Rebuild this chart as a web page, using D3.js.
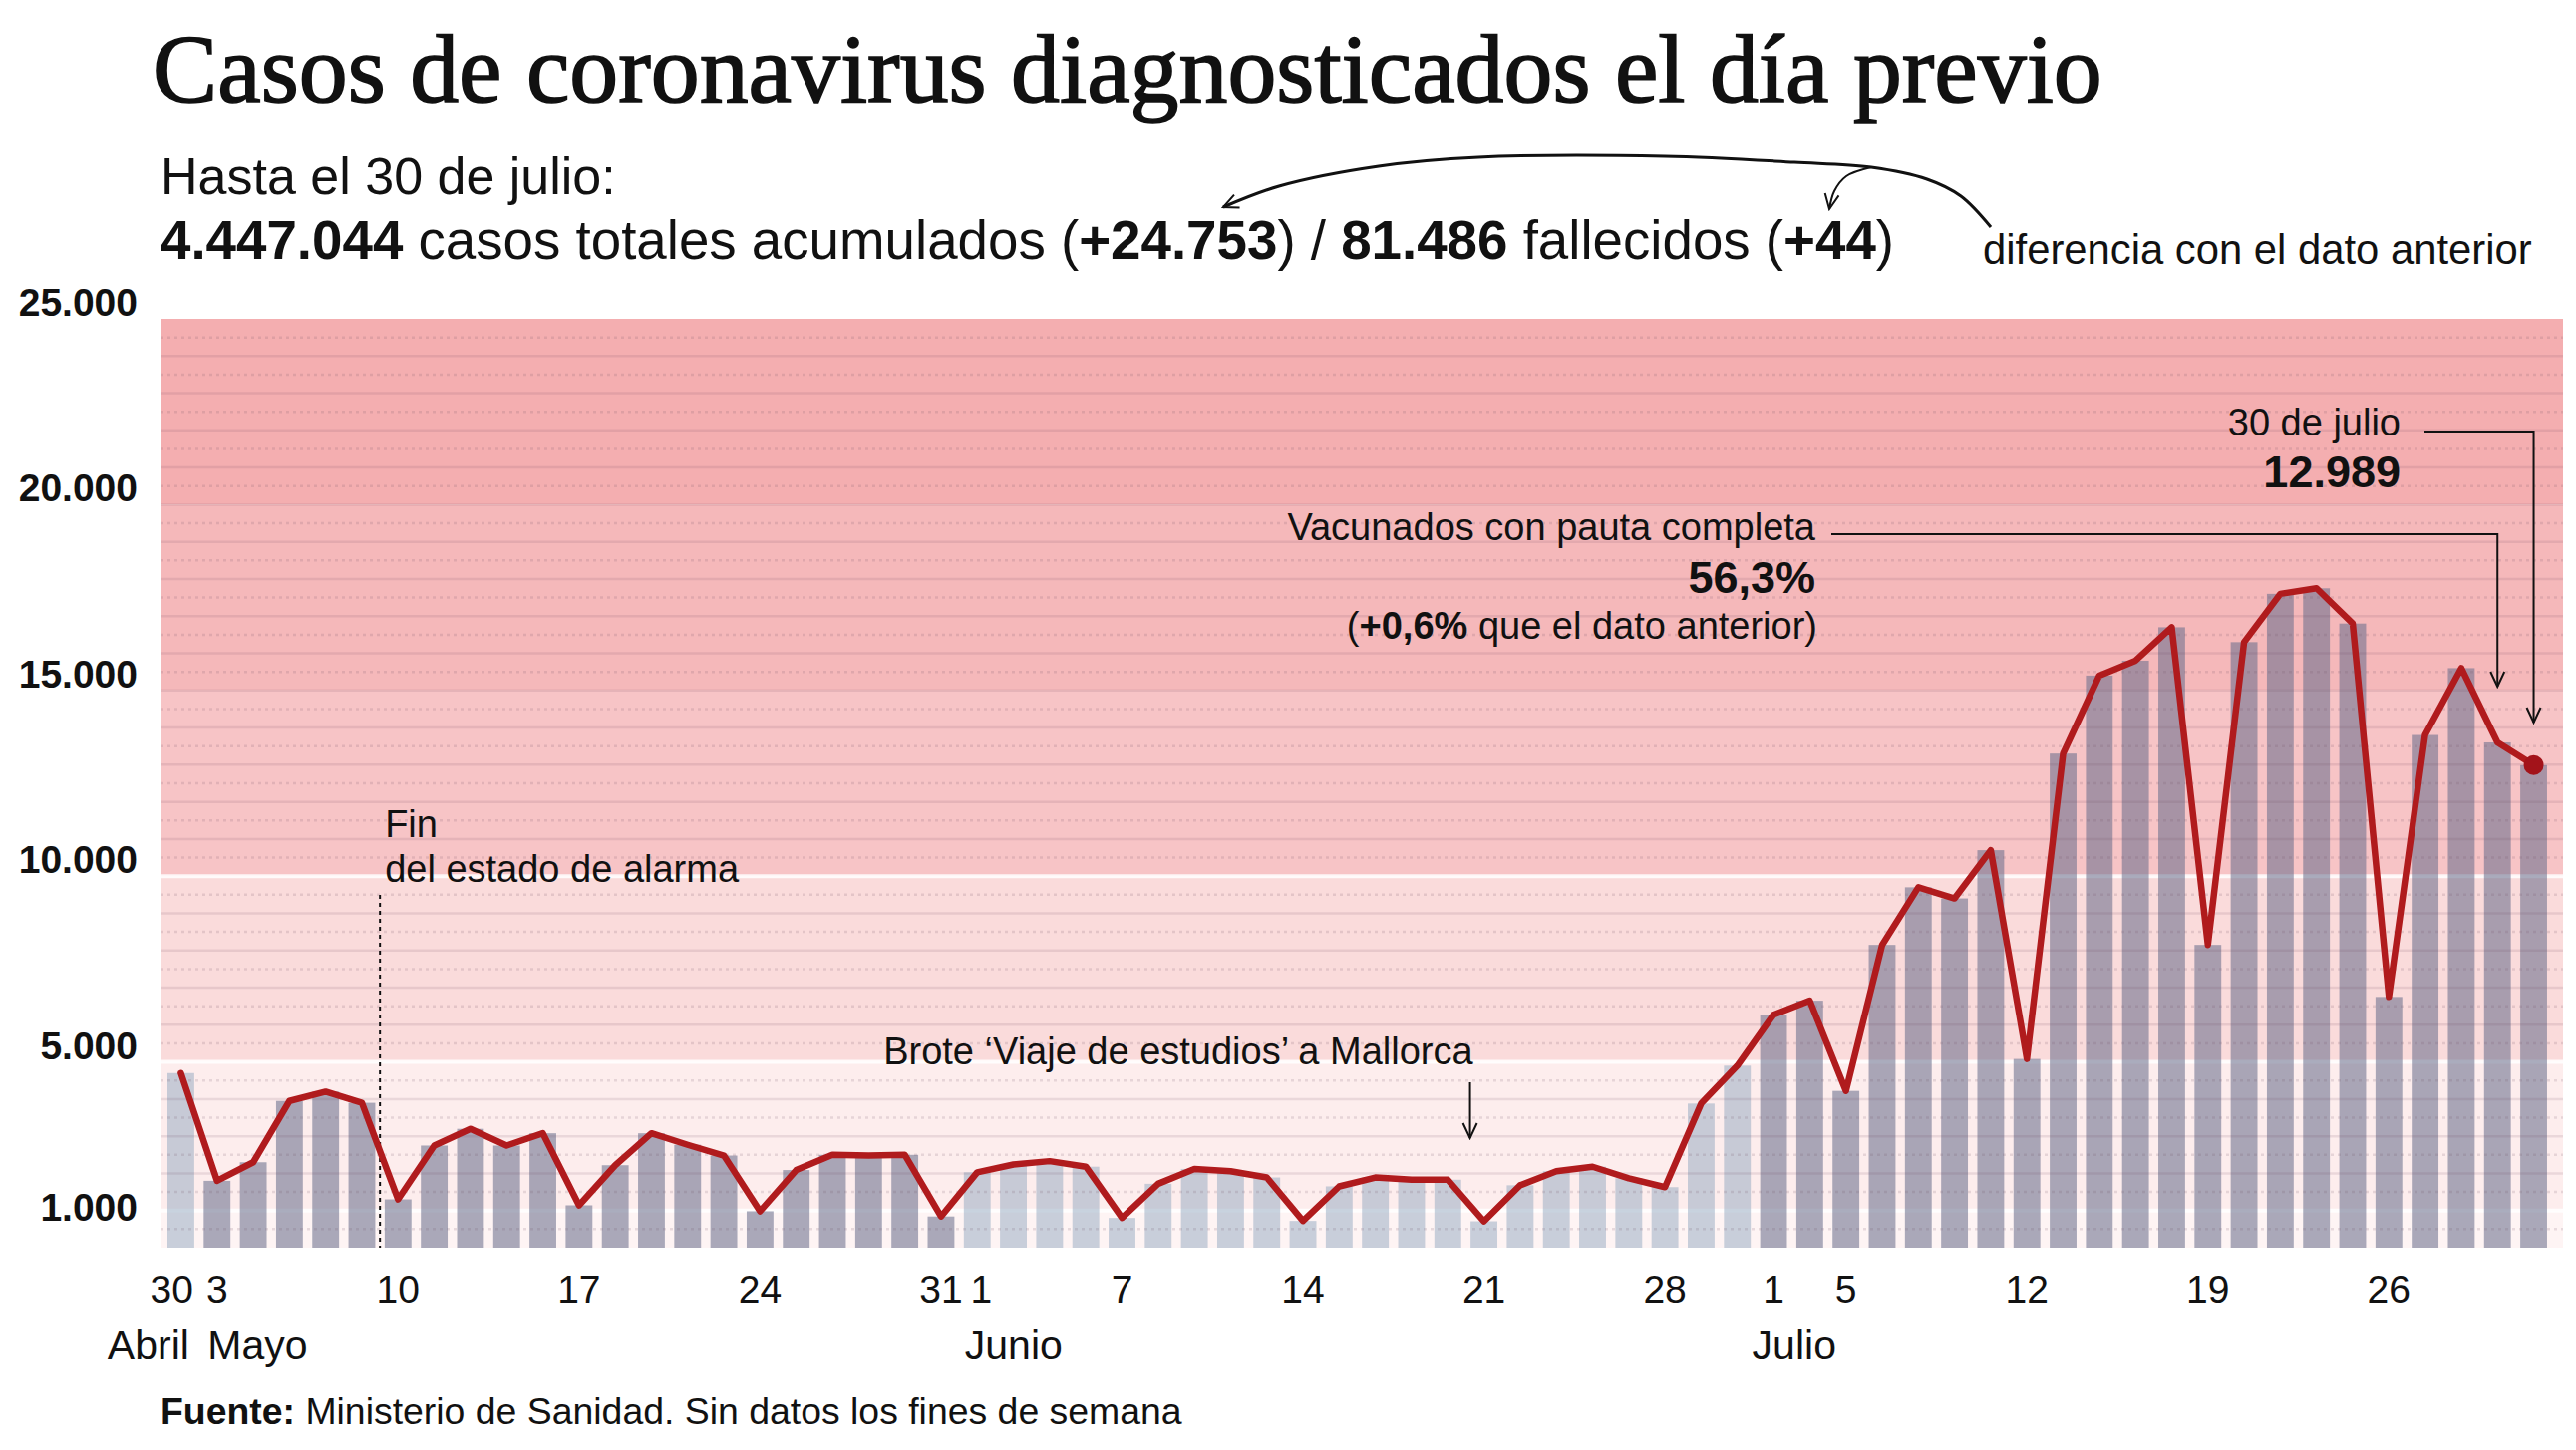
<!DOCTYPE html>
<html><head><meta charset="utf-8">
<script src="https://cdn.jsdelivr.net/npm/d3@7"></script>
<style>
body{margin:0;background:#fff}
svg{display:block}
text{font-family:"Liberation Sans",Arial,Helvetica,sans-serif;fill:#111}
</style>
</head><body>
<svg id="chart" width="2584" height="1455"></svg>
<script>
// ---------------- DATA ----------------
const fechas = [
 "2021-04-30",
 "2021-05-03","2021-05-04","2021-05-05","2021-05-06","2021-05-07",
 "2021-05-10","2021-05-11","2021-05-12","2021-05-13","2021-05-14",
 "2021-05-17","2021-05-18","2021-05-19","2021-05-20","2021-05-21",
 "2021-05-24","2021-05-25","2021-05-26","2021-05-27","2021-05-28",
 "2021-05-31","2021-06-01","2021-06-02","2021-06-03","2021-06-04",
 "2021-06-07","2021-06-08","2021-06-09","2021-06-10","2021-06-11",
 "2021-06-14","2021-06-15","2021-06-16","2021-06-17","2021-06-18",
 "2021-06-21","2021-06-22","2021-06-23","2021-06-24","2021-06-25",
 "2021-06-28","2021-06-29","2021-06-30","2021-07-01","2021-07-02",
 "2021-07-05","2021-07-06","2021-07-07","2021-07-08","2021-07-09",
 "2021-07-12","2021-07-13","2021-07-14","2021-07-15","2021-07-16",
 "2021-07-19","2021-07-20","2021-07-21","2021-07-22","2021-07-23",
 "2021-07-26","2021-07-27","2021-07-28","2021-07-29","2021-07-30"
];
const casos = [
 4700,
 1800,2300,3950,4200,3900,
 1300,2750,3200,2750,3080,
 1140,2220,3080,2770,2480,
 980,2090,2500,2480,2500,
 840,2030,2240,2330,2180,
 800,1720,2120,2060,1890,
 720,1650,1890,1830,1830,
 710,1680,2060,2180,1870,
 1630,3880,4900,6270,6650,
 4220,8150,9700,9400,10700,
 5080,13300,15400,15800,16700,
 8150,16300,17600,17750,16800,
 6750,13800,15600,13600,12989
];
const tickFechas = ["2021-04-30","2021-05-03","2021-05-10","2021-05-17","2021-05-24","2021-05-31","2021-06-01","2021-06-07","2021-06-14","2021-06-21","2021-06-28","2021-07-01","2021-07-05","2021-07-12","2021-07-19","2021-07-26"];
const tickEtiquetas = ["30","3","10","17","24","31","1","7","14","21","28","1","5","12","19","26"];
const mesFechas = ["2021-04-30","2021-05-03","2021-06-01","2021-07-01"];
const mesNombres = ["Abril","Mayo","Junio","Julio"];
const yTicks = [1000,5000,10000,15000,20000,25000];
const bandLimites = [0,1000,5000,10000,15000,20000,25000];
const bandColores = ["#fef4f4","#fdeded","#fadbdb","#f7c4c6","#f5b8ba","#f4aeb0"];
const separadores = [1000,5000,10000];

// ---------------- LAYOUT ----------------
const W = 2584, H = 1455;
const plotL = 161, plotR = 2571, plotT = 320, plotB = 1252;
const svg = d3.select("#chart");
svg.append("rect").attr("width",W).attr("height",H).attr("fill","#fff");

const es = d3.formatLocale({decimal:",",thousands:".",grouping:[3],currency:["","€"]});
const fmt = es.format(",d");

const x = d3.scaleBand().domain(fechas).range([163.3, 2559.7]).paddingInner(0.26).paddingOuter(0.13);
const y = d3.scaleLinear().domain([0,25000]).range([plotB, plotT]);
const cx = d => x(d) + x.bandwidth()/2;

// defs
const defs = svg.append("defs");
defs.append("marker").attr("id","flecha").attr("viewBox","0 0 20 20").attr("refX",18).attr("refY",10)
  .attr("markerWidth",20).attr("markerHeight",20).attr("markerUnits","userSpaceOnUse").attr("orient","auto")
  .append("path").attr("d","M3,3 L18,10 L3,17").attr("fill","none").attr("stroke","#111").attr("stroke-width",2);

// background bands
const g = svg.append("g");
g.selectAll("rect.band").data(bandColores).join("rect").attr("class","band")
  .attr("x",plotL).attr("width",plotR-plotL)
  .attr("y",(c,i)=>y(bandLimites[i+1])).attr("height",(c,i)=>y(bandLimites[i])-y(bandLimites[i+1]))
  .attr("fill",c=>c);
g.selectAll("line.sep").data(separadores).join("line").attr("class","sep")
  .attr("x1",plotL).attr("x2",plotR).attr("y1",d=>y(d)).attr("y2",d=>y(d))
  .attr("stroke","#fff").attr("stroke-width",4).attr("stroke-opacity",0.85);

// bars
const mesDe = d => +d.slice(5,7);
g.selectAll("rect.bar").data(fechas).join("rect").attr("class","bar")
  .attr("x",d=>x(d)).attr("width",x.bandwidth())
  .attr("y",(d,i)=>y(casos[i])).attr("height",(d,i)=>plotB - y(casos[i]))
  .attr("fill",d=> (mesDe(d)%2===1) ? "rgba(106,110,140,0.57)" : "rgba(146,168,192,0.5)");

// gridlines
const solidas = d3.range(1000,25000,1000).filter(v=>!separadores.includes(v));
const punteadas = d3.range(500,25000,1000);
g.selectAll("line.gs").data(solidas).join("line").attr("class","gs")
  .attr("x1",plotL).attr("x2",plotR).attr("y1",d=>y(d)).attr("y2",d=>y(d))
  .attr("stroke","rgba(110,70,90,0.13)").attr("stroke-width",2.5);
g.selectAll("line.gd").data(punteadas).join("line").attr("class","gd")
  .attr("x1",plotL).attr("x2",plotR).attr("y1",d=>y(d)).attr("y2",d=>y(d))
  .attr("stroke","rgba(110,80,100,0.16)").attr("stroke-width",2.5).attr("stroke-dasharray","3,4");

// Fin estado de alarma
const iMay10 = fechas.indexOf("2021-05-10");
const xFin = (cx(fechas[iMay10-1]) + cx(fechas[iMay10]))/2;
g.append("line").attr("x1",xFin).attr("x2",xFin).attr("y1",898).attr("y2",plotB)
  .attr("stroke","#111").attr("stroke-width",2).attr("stroke-dasharray","4,4");
g.append("text").attr("x",xFin+5).attr("y",840).attr("font-size",38).text("Fin");
g.append("text").attr("x",xFin+5).attr("y",885).attr("font-size",38).text("del estado de alarma");

// Brote
const xBrote = cx("2021-06-21") - 14;
g.append("text").attr("x",xBrote+3).attr("y",1068).attr("text-anchor","end").attr("font-size",38)
  .text("Brote \u2018Viaje de estudios\u2019 a Mallorca");
g.append("line").attr("x1",xBrote).attr("x2",xBrote).attr("y1",1086).attr("y2",1142)
  .attr("stroke","#111").attr("stroke-width",2).attr("marker-end","url(#flecha)");

// red line
const linea = d3.line().x(d=>cx(d)).y((d,i)=>y(casos[i]));
g.append("path").attr("d",linea(fechas)).attr("fill","none").attr("stroke","#b01b1d")
  .attr("stroke-width",6.5).attr("stroke-linejoin","round").attr("stroke-linecap","round");
const last = fechas.length-1;
g.append("circle").attr("cx",cx(fechas[last])).attr("cy",y(casos[last])).attr("r",10).attr("fill","#a3131a");

// y labels
svg.selectAll("text.yl").data(yTicks).join("text").attr("class","yl")
  .attr("x",138).attr("y",d=> d===1000 ? y(d)+10 : y(d)-3).attr("text-anchor","end").attr("font-size",39).attr("font-weight","bold")
  .text(d=>fmt(d));

// x labels
svg.selectAll("text.xl").data(tickFechas).join("text").attr("class","xl")
  .attr("x",(d,i)=> i===0 ? x(d)+x.bandwidth()-1 : (tickEtiquetas[i]==="1" && i===6 ? cx(d)+4 : cx(d)))
  .attr("y",1307).attr("text-anchor",(d,i)=> i===0 ? "end":"middle").attr("font-size",39)
  .text((d,i)=>tickEtiquetas[i]);
const mesDx = [-5, 4, 1, -8];
svg.selectAll("text.ml").data(mesFechas).join("text").attr("class","ml")
  .attr("x",(d,i)=> (i===0 ? x(d)+x.bandwidth() : x(d)) + mesDx[i])
  .attr("y",1364).attr("text-anchor",(d,i)=> i===0 ? "end":"start").attr("font-size",41)
  .text((d,i)=>mesNombres[i]);

// annotations right
const xJul29 = cx("2021-07-29"), xJul30 = cx(fechas[last]);
svg.append("text").attr("x",1821).attr("y",542).attr("text-anchor","end").attr("font-size",38).text("Vacunados con pauta completa");
svg.append("text").attr("x",1821).attr("y",595).attr("text-anchor","end").attr("font-size",45).attr("font-weight","bold").text("56,3%");
const t3 = svg.append("text").attr("x",1823).attr("y",641).attr("text-anchor","end").attr("font-size",38);
t3.append("tspan").text("(");
t3.append("tspan").attr("font-weight","bold").text("+0,6%");
t3.append("tspan").text(" que el dato anterior)");
svg.append("path").attr("d",`M1837,536 H${xJul29} V689`).attr("fill","none").attr("stroke","#111").attr("stroke-width",2).attr("marker-end","url(#flecha)");

svg.append("text").attr("x",2408).attr("y",437).attr("text-anchor","end").attr("font-size",38).text("30 de julio");
svg.append("text").attr("x",2408).attr("y",489).attr("text-anchor","end").attr("font-size",45).attr("font-weight","bold").text(fmt(casos[last]));
svg.append("path").attr("d",`M2432,433 H${xJul30} V725`).attr("fill","none").attr("stroke","#111").attr("stroke-width",2).attr("marker-end","url(#flecha)");

// title & header
const title = svg.append("text").attr("x",153).attr("y",102).attr("font-size",88)
  .style("font-family",'"Liberation Serif","Times New Roman",serif')
  .attr("stroke","#111").attr("stroke-width",1.6)
  .text("Casos de coronavirus diagnosticados el día previo");
const tw = title.node().getComputedTextLength();
title.attr("font-size", 88*1956/tw);

svg.append("text").attr("x",161).attr("y",195).attr("font-size",52).text("Hasta el 30 de julio:");
const l2 = svg.append("text").attr("x",161).attr("y",260).attr("font-size",54.7);
[["4.447.044",1],[" casos totales acumulados (",0],["+24.753",1],[") / ",0],["81.486",1],[" fallecidos (",0],["+44",1],[")",0]]
  .forEach(([t,b])=> l2.append("tspan").attr("font-weight",b?"bold":"normal").text(t));
svg.append("text").attr("x",1989).attr("y",265).attr("font-size",41.8).text("diferencia con el dato anterior");

const curva = d3.line().curve(d3.curveCatmullRom.alpha(0.5));
svg.append("path").attr("d",curva([[1997,228],[1967,197],[1933,180],[1877,168],[1800,163],[1670,157],[1483,158],[1383,167],[1283,187],[1227,208]]))
  .attr("fill","none").attr("stroke","#111").attr("stroke-width",3).attr("marker-end","url(#flecha)");
svg.append("path").attr("d",curva([[1877,168],[1852,177],[1840,192],[1835,210]]))
  .attr("fill","none").attr("stroke","#111").attr("stroke-width",2).attr("marker-end","url(#flecha)");

// source
const src = svg.append("text").attr("x",161).attr("y",1429).attr("font-size",37.4);
src.append("tspan").attr("font-weight","bold").text("Fuente:");
src.append("tspan").text(" Ministerio de Sanidad. Sin datos los fines de semana");
</script>
</body></html>
